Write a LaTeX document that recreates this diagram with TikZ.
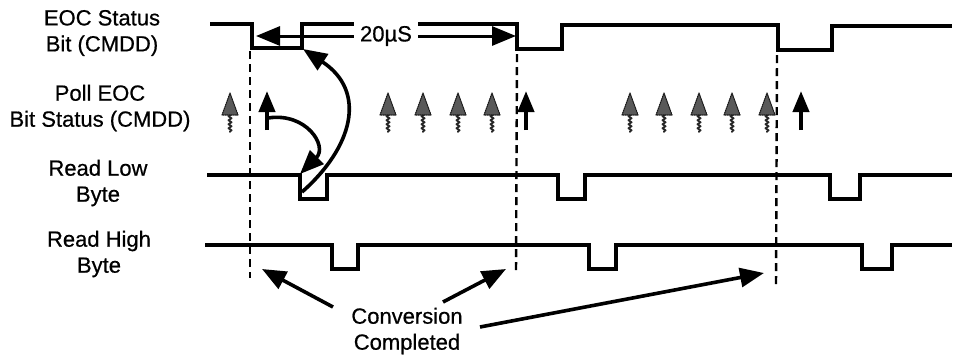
\documentclass[tikz,border=0pt]{standalone}
\usepackage{fontspec}
\setmainfont{Liberation Sans}
\newfontfamily\labfont[FakeBold=0.6]{Liberation Sans}
\usetikzlibrary{arrows.meta,decorations.pathmorphing}

\begin{document}
\begin{tikzpicture}[x=1pt,y=-1pt,line join=round,line cap=round,
	font=\labfont\fontsize{22}{26}\selectfont,>={Triangle[length=24pt,width=19pt]},
	sig/.style={line width=3.2pt,line cap=butt,line join=miter},
	cut/.style={line width=2.4pt,line cap=butt,dash pattern=on 8pt off 5pt},
	lab/.style={align=center,inner sep=0pt},
	pointer/.style={->,line width=3.6pt,line cap=butt},
	pollhead/.style={fill=black!65,draw=black!90,densely dotted,line width=1.1pt},
	pollshaft/.style={draw=black!85,line width=1.8pt,decorate,
		decoration={snake,amplitude=1.6pt,segment length=4pt}},
	pollsolid/.style={line width=4pt,line cap=butt,-{Triangle[length=21pt,width=16pt]}}]
	\useasboundingbox (0,0) rectangle (953,360);
	% signal names
	\node[lab] (eoc) at (102,33) {EOC Status\\Bit (CMDD)};
	\node[lab] (poll) at (100,108) {Poll EOC\\Bit Status (CMDD)};
	\node[lab] (rlow) at (98,183) {Read Low\\Byte};
	\node[lab] (rhigh) at (99,254) {Read High\\Byte};
	% waveforms
	\draw[sig] (210,24) -| (252,48) -| (302,24) -| (517,49) -| (562,25)
		-| (778,50) -| (832,26) -- (952,26);
	\draw[sig] (207,175) -| (300,199) -| (327,175) -| (558,199) -| (585,175)
		-| (830,199) -| (860,175) -- (952,175);
	\draw[sig] (205,245) -| (332,269) -| (358,245) -| (589,269) -| (616,245)
		-| (862,269) -| (892,245) -- (952,245);
	% conversion instants
	\path (250,51) coordinate (T1) (250,278) coordinate (B1)
		(517,54) coordinate (T2) (516,274) coordinate (B2)
		(777,55) coordinate (T3) (776,287) coordinate (B3);
	\draw[cut] (T1)--(B1);
	\draw[cut] (T2)--(B2);
	\draw[cut] (T3)--(B3);
	% 20 us interval
	\path (256,36) coordinate (D1) (516,36) coordinate (D2);
	\draw[<->,line width=3pt,line cap=butt] (D1)--(D2)
		node[pos=0.5,fill=white,inner sep=6pt] (dt) {20µS};
	% polling
	\foreach \x in {230,388,423,458,492,630,664,699,732,767}{
		\draw[pollshaft] (\x,113)--(\x,132);
		\filldraw[pollhead] (\x-8,115)--(\x,93)--(\x+8,115)--cycle;
	}
	\foreach \x in {267,526,801}
		\draw[pollsolid] (\x,130)--(\x,91);
	% read triggered by poll
	\path (268,118) coordinate (P1)
		(300,174) coordinate (L1)
		(302,192) coordinate (L2)
		(303,49) coordinate (E1);
	\draw[pointer] (P1) .. controls (306,112) and (328,146) .. (L1);
	\draw[pointer] (L2) .. controls (352,148) and (368,92) .. (E1);
	% conversion completed
	\node[lab] (conv) at (407,331) {Conversion\\Completed};
	\path (333,307) coordinate (C1)
		(443,302) coordinate (C2)
		(480,327) coordinate (C3);
	\draw[pointer] (C1)--(262,269);
	\draw[pointer] (C2)--(506,269);
	\draw[pointer] (C3)--(764,273);
\end{tikzpicture}
\end{document}
